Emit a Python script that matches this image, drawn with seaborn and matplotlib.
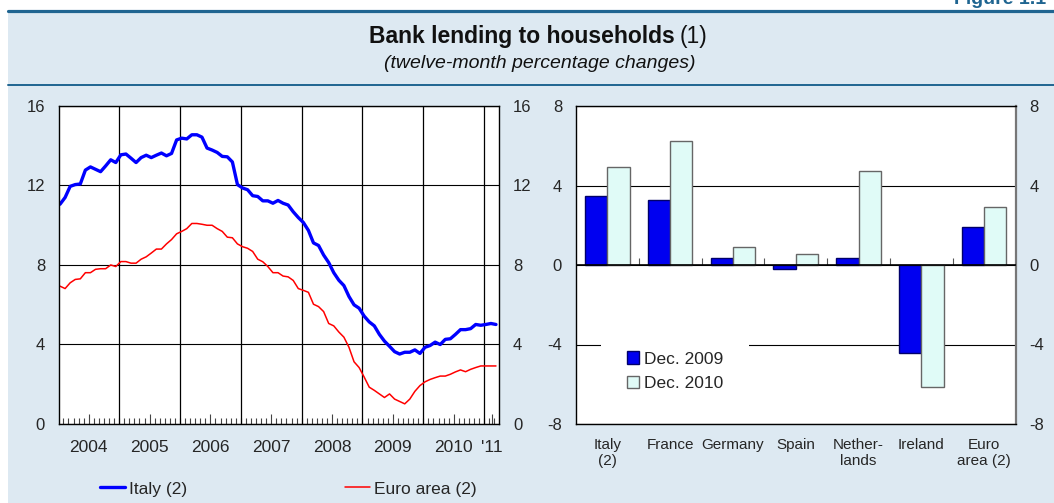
import matplotlib
matplotlib.use("Agg")
import matplotlib.pyplot as plt
import numpy as np
import pandas as pd
import seaborn as sns
from matplotlib.patches import Rectangle
from matplotlib.lines import Line2D

# monthly twelve-month changes, Jan 2004 - Mar 2011
italy = [11.05, 11.39, 11.95, 12.04, 12.07, 12.77, 12.93, 12.81, 12.69, 12.98, 13.29, 13.15,
         13.54, 13.58, 13.37, 13.15, 13.40, 13.52, 13.40, 13.52, 13.63, 13.49, 13.61, 14.29,
         14.38, 14.34, 14.55, 14.55, 14.43, 13.88, 13.78, 13.66, 13.46, 13.44, 13.18, 12.04,
         11.87, 11.78, 11.48, 11.44, 11.22, 11.22, 11.10, 11.24, 11.10, 11.01, 10.67, 10.38,
         10.13, 9.73, 9.10, 8.97, 8.49, 8.11, 7.60, 7.22, 6.95, 6.40, 5.98, 5.81,
         5.41, 5.12, 4.92, 4.49, 4.15, 3.89, 3.62, 3.50, 3.59, 3.59, 3.71, 3.53,
         3.84, 3.93, 4.10, 3.98, 4.24, 4.27, 4.49, 4.73, 4.73, 4.78, 4.99, 4.95,
         4.99, 5.04, 4.99]
euro_area = [6.92, 6.80, 7.09, 7.26, 7.29, 7.60, 7.60, 7.77, 7.80, 7.80, 7.99, 7.91,
             8.16, 8.16, 8.08, 8.08, 8.28, 8.40, 8.59, 8.79, 8.79, 9.05, 9.27, 9.56,
             9.68, 9.82, 10.08, 10.08, 10.04, 9.99, 9.99, 9.82, 9.68, 9.39, 9.36, 9.05,
             8.91, 8.83, 8.67, 8.28, 8.15, 7.91, 7.60, 7.60, 7.43, 7.39, 7.21, 6.80,
             6.71, 6.61, 6.01, 5.89, 5.64, 5.04, 4.92, 4.61, 4.35, 3.84, 3.11, 2.82,
             2.34, 1.83, 1.67, 1.49, 1.31, 1.49, 1.23, 1.11, 0.99, 1.23, 1.62, 1.91,
             2.10, 2.22, 2.31, 2.39, 2.39, 2.48, 2.60, 2.70, 2.61, 2.73, 2.82, 2.90,
             2.90, 2.90, 2.90]
year_labels = ["2004", "2005", "2006", "2007", "2008", "2009", "2010", "'11"]
line_labels = ["Italy (2)", "Euro area (2)"]

countries = ["Italy\n(2)", "France", "Germany", "Spain", "Nether-\nlands", "Ireland", "Euro\narea (2)"]
dec_2009 = [3.48, 3.26, 0.34, -0.22, 0.36, -4.41, 1.90]
dec_2010 = [4.95, 6.22, 0.91, 0.55, 4.75, -6.16, 2.90]
periods = ["Dec. 2009", "Dec. 2010"]

sns.set_theme(style="white")
plt.rcParams['font.family'] = ['Liberation Sans', 'DejaVu Sans']
plt.rcParams['axes.linewidth'] = 1.0
plt.rcParams['axes.unicode_minus'] = False

W, H = 1054, 503
fig = plt.figure(figsize=(W / 100, H / 100), dpi=100, facecolor='white')

def fx(px):
    return px / W

def fy(py):
    return 1 - py / H

rule = '#1f6591'
fig.add_artist(Rectangle((fx(8), 0), 1 - fx(8), fy(10), transform=fig.transFigure,
                         facecolor='#dde9f2', edgecolor='none', zorder=-10))
fig.add_artist(Line2D([fx(8), 1], [fy(10.5)] * 2, transform=fig.transFigure, color=rule, lw=2.3))
fig.add_artist(Line2D([fx(8), 1], [fy(85)] * 2, transform=fig.transFigure, color=rule, lw=1.4))
fig.text(fx(954), fy(4), "Figure 1.1", fontsize=14, fontweight='bold', color=rule, va='baseline')

# title: bold part + regular "(1)"
t1 = fig.text(fx(369), fy(43), "Bank lending to households", fontsize=16.5, fontweight='bold',
              color='#111111', va='baseline', ha='left')
r = fig.canvas.get_renderer()
bb = t1.get_window_extent(renderer=r)
fig.text(bb.x1 / W + fx(5), fy(43), "(1)", fontsize=16.5, color='#111111', va='baseline', ha='left')
fig.text(0.5 + fx(13), fy(68), "(twelve-month percentage changes)", fontsize=14, fontstyle='italic',
         color='#111111', ha='center', va='baseline')

# ---- left panel: lines ----
ax1 = fig.add_axes([fx(59), fy(423.5), fx(440), (423.5 - 106) / H])
ax1.set_facecolor('white')
t = np.arange(len(italy)) + 1 / 3
sns.lineplot(x=t, y=euro_area, color='#ff0000', lw=1.1, ax=ax1, label=line_labels[1], legend=False)
sns.lineplot(x=t, y=italy, color='#0000ff', lw=2.4, ax=ax1, label=line_labels[0], legend=False)
ax1.set_xlim(0.13, 86.93)
ax1.set_ylim(0, 16)
ax1.set_yticks([0, 4, 8, 12, 16])
ax1.grid(axis='y', color='black', lw=0.8)
ax1.set_axisbelow(True)
for b in np.arange(12, len(italy), 12):
    ax1.axvline(b, color='black', lw=0.9, zorder=1)
ax1.set_xticks(np.arange(1, len(italy)), minor=True)
mid = list(np.arange(6, 84, 12)) + [85.5]
ax1.set_xticks(mid, labels=year_labels)
ax1.xaxis.get_major_ticks()[-1].tick1line.set_visible(False)
ax1.tick_params(axis='x', which='minor', direction='in', length=4, width=0.8, color='#444444', bottom=True)
ax1.tick_params(axis='x', which='major', direction='in', length=7, width=0.8, color='#444444',
                pad=12, labelsize=12.5, bottom=True)
ax1.tick_params(axis='y', length=0, labelsize=12, labelleft=True, labelright=True, pad=10)
for s in ax1.spines.values():
    s.set_color('black')
    s.set_linewidth(1.0)
ax1.set_xlabel('')
ax1.set_ylabel('')

h1, l1 = ax1.get_legend_handles_labels()
order = [l1.index(x) for x in line_labels]
fig.legend([h1[i] for i in order], line_labels, loc='center left', bbox_to_anchor=(fx(100), fy(489)),
           ncol=2, frameon=False, borderpad=0, borderaxespad=0, handlelength=1.44,
           handletextpad=0.23, columnspacing=9.1, fontsize=12.5)

# ---- right panel: bars ----
ax2 = fig.add_axes([fx(576), fy(424), fx(439.5), (424 - 106) / H])
ax2.set_facecolor('white')
df_bar = pd.DataFrame({
    'country': countries * 2,
    'value': dec_2009 + dec_2010,
    'period': [periods[0]] * len(countries) + [periods[1]] * len(countries),
})
sns.barplot(data=df_bar, x='country', y='value', hue='period', palette=['#0000f0', '#e0fbf7'],
            width=0.71, saturation=1, ax=ax2, legend=False, zorder=3)
edges = ['#00006a', '#666666']
for cont, ec in zip(ax2.containers, edges):
    for p in cont.patches:
        p.set_edgecolor(ec)
        p.set_linewidth(1.0)
ax2.set_ylim(-8, 8)
ax2.set_yticks([-8, -4, 0, 4, 8])
ax2.grid(axis='y', color='black', lw=0.8)
ax2.set_axisbelow(True)
ax2.axhline(0, color='black', lw=1.2, zorder=4)
sec = ax2.secondary_xaxis(0.5)
sec.set_xticks(np.arange(len(countries) - 1) + 0.5)
sec.tick_params(direction='out', length=5, width=0.8, color='#555555', labeltop=False, labelbottom=False)
for s in sec.spines.values():
    s.set_visible(False)
ax2.tick_params(axis='x', length=0, pad=10, labelsize=11)
ax2.tick_params(axis='y', length=0, labelsize=12, labelleft=True, labelright=True, pad=10)
for s in ax2.spines.values():
    s.set_color('black')
    s.set_linewidth(1.0)
ax2.spines['right'].set_color('#777777')
ax2.spines['right'].set_linewidth(1.6)
ax2.set_xlabel('')
ax2.set_ylabel('')
ax2.legend([c.patches[0] for c in ax2.containers], periods, loc='upper left',
           bbox_to_anchor=(0.057, 0.31), borderaxespad=0, frameon=True, facecolor='white',
           edgecolor='none', framealpha=1, fancybox=False, borderpad=1.5, handlelength=0.7,
           handleheight=0.7, handletextpad=0.25, labelspacing=0.55, fontsize=12.5)

fig.savefig('out.png', dpi=100)
